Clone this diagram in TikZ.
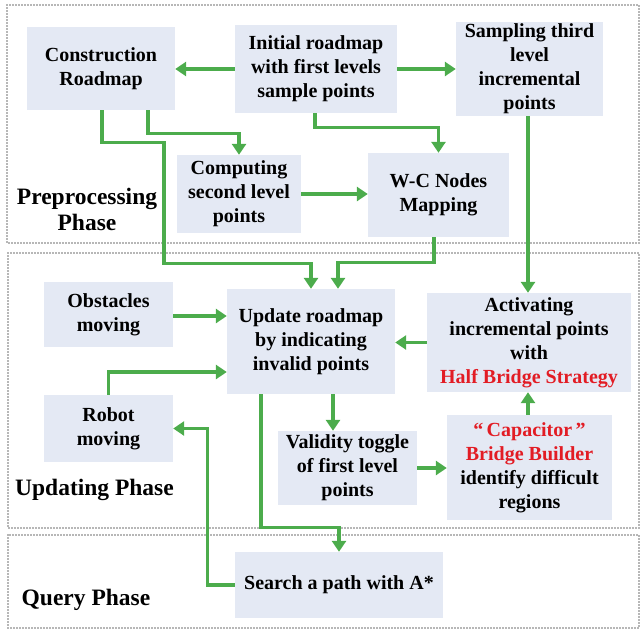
\documentclass[tikz,border=0pt]{standalone}
\usepackage{fontspec}
\setmainfont{Liberation Serif}
\usetikzlibrary{arrows.meta}
\definecolor{boxfill}{RGB}{228,233,244}
\definecolor{arrgreen}{RGB}{76,172,76}
\definecolor{redtext}{RGB}{226,28,36}
\definecolor{framegray}{RGB}{110,110,110}
\tikzset{
  box/.style={fill=boxfill, draw=none, inner sep=0pt, align=center,
    font=\fontsize{20}{24}\selectfont\bfseries},
  arr/.style={draw=arrgreen, line width=3.3pt,
    -{Triangle[length=11pt,width=14pt]}},
  frame/.style={draw=framegray, line width=1.6pt, line cap=round, dash pattern=on 0pt off 3pt},
  phase/.style={inner sep=0pt, align=center, font=\fontsize{23.5}{26}\selectfont\bfseries}
}
\begin{document}
\begin{tikzpicture}[x=1pt,y=-1pt]
\useasboundingbox (0,0) rectangle (642,635);
% frames
\draw[frame] (7,5) rectangle (639,243);
\draw[frame] (8,253) rectangle (639,528);
\draw[frame] (8,535) rectangle (639,628);
% phase labels
\node[phase] (lprep) at (87,209) {Preprocessing\\Phase};
\node[phase] (lupd) at (94.5,490) {Updating Phase};
\node[phase] (lquery) at (86,600) {Query Phase};
% boxes
\node[box, minimum width=148pt, minimum height=83pt] (cons) at (101,68.5) {Construction\\Roadmap};
\node[box, minimum width=162pt, minimum height=88pt] (init) at (316,69) {Initial roadmap\\with first levels\\sample points};
\node[box, minimum width=147pt, minimum height=94pt] (samp) at (529.5,69) {Sampling third\\level\\incremental\\points};
\node[box, minimum width=124pt, minimum height=78pt] (comp) at (239,194) {Computing\\second level\\points};
\node[box, minimum width=141pt, minimum height=84pt] (wc) at (438.5,195) {W-C Nodes\\Mapping};
\node[box, minimum width=129pt, minimum height=65pt] (obst) at (108.5,314.5) {Obstacles\\moving};
\node[box, minimum width=168pt, minimum height=105pt] (upd) at (311,341.5) {Update roadmap\\by indicating\\invalid points};
\node[box, minimum width=204pt, minimum height=99pt] (act) at (529,342.5) {Activating\\incremental points\\with\\\textcolor{redtext}{Half Bridge Strategy}};
\node[box, minimum width=129pt, minimum height=67pt] (robot) at (108.5,428.5) {Robot\\moving};
\node[box, minimum width=139pt, minimum height=74pt] (valid) at (347.5,468) {Validity toggle\\of first level\\points};
\node[box, minimum width=165pt, minimum height=105pt] (cap) at (529.5,467.5) {\textcolor{redtext}{“\,Capacitor\,”}\\\textcolor{redtext}{Bridge Builder}\\identify difficult\\regions};
\node[box, minimum width=208pt, minimum height=66pt] (search) at (339,585) {Search a path with A*};
% helper coordinates
\coordinate (consA) at ([xshift=1pt]cons.south);
\coordinate (consB) at ([xshift=47pt]cons.south);
\coordinate (initB) at ([xshift=-1pt]init.south);
\coordinate (wcB) at ([xshift=-4.5pt]wc.south);
\coordinate (updIn) at ([xshift=27pt]upd.north);
\coordinate (updV) at ([xshift=22pt]upd.south);
\coordinate (updS) at ([xshift=-50pt]upd.south);
\coordinate (updR) at ([yshift=-30.5pt]upd.west);
\coordinate (updO) at ([yshift=-1.5pt]obst.east);
\coordinate (sampB) at ([xshift=-1.5pt]samp.south);
\coordinate (capN) at ([xshift=-1.5pt]cap.north);
% connectors
\draw[arr] (init.west) -- (init.west -| cons.east);
\draw[arr] (init.east) -- (init.east -| samp.west);
\draw[arr] (initB) -- ++(0,14) -| (wc.north);
\draw[arr] (consB) -- ++(0,23) -| (comp.north);
\draw[arr] (consA) -- ++(0,32) -- ++(62,0) -- ++(0,121) -| (upd.north);
\draw[arr] (wcB) -- ++(0,25) -| (updIn);
\draw[arr] (sampB) -- (sampB |- act.north);
\draw[arr] (comp.east) -- (comp.east -| wc.west);
\draw[arr] (updO) -- (updO -| upd.west);
\draw[arr] (act.west) -- (act.west -| upd.east);
\draw[arr] (robot.north) |- (updR);
\draw[arr] (updV) -- (updV |- valid.north);
\draw[arr] (valid.east) -- (valid.east -| cap.west);
\draw[arr] (capN) -- (capN |- act.south);
\draw[arr] (updS) -- ++(0,133) -| (search.north);
\draw[arr] (search.west) -- ++(-27,0) |- (robot.east);
\end{tikzpicture}
\end{document}
